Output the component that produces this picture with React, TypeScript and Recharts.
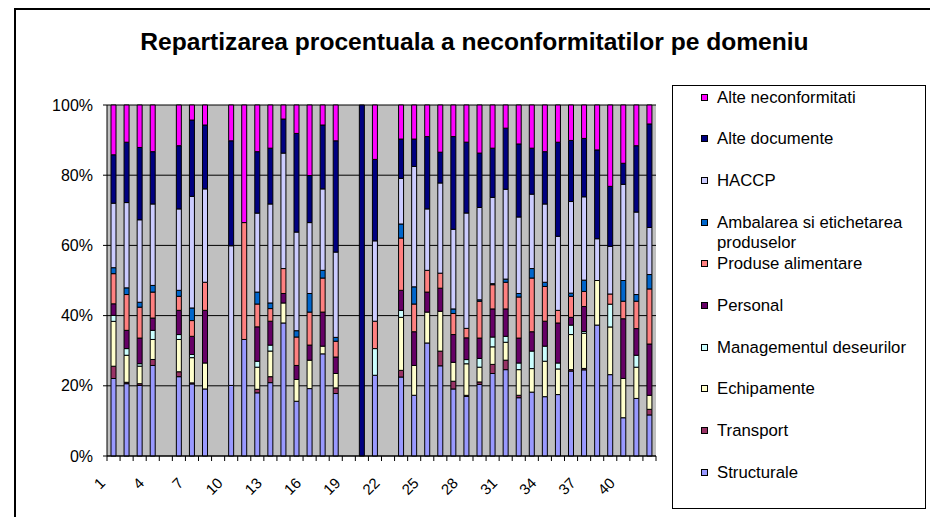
import React from 'react';
import { BarChart, Bar, XAxis, YAxis, CartesianGrid } from 'recharts';

// categories 1..42 (5, 9, 19 and 22 have no data)
const categories = [
  '1', '2', '3', '4', '5', '6', '7', '8', '9', '10', '11', '12', '13', '14',
  '15', '16', '17', '18', '19', '20', '21', '22', '23', '24', '25', '26', '27', '28',
  '29', '30', '31', '32', '33', '34', '35', '36', '37', '38', '39', '40', '41', '42',
];

// percentage shares, bottom of the stack first
const structurale = [
  22.1, 20.6, 20.1, 25.8, 0, 22.6, 20.6, 19.1, 0, 20.1, 33.2, 18.0, 20.9, 37.9,
  15.6, 19.2, 29.1, 17.8, 0, 0, 23.0, 0, 22.5, 17.3, 32.2, 25.8, 19.1, 17.0,
  20.4, 23.5, 24.6, 16.6, 18.2, 16.9, 17.5, 24.2, 24.5, 37.3, 23.2, 10.9, 16.4, 11.7,
];
const transport = [
  3.5, 0.4, 0.5, 1.7, 0, 1.4, 0.3, 0, 0, 0, 0, 1.0, 1.7, 0,
  0, 0, 0, 1.6, 0, 0, 0, 0, 1.9, 0, 0, 4.2, 2.2, 0.3,
  0.7, 2.6, 2.7, 0.7, 0, 0, 0, 0.4, 0.4, 0, 0, 0, 0, 1.6,
];
const echipamente = [
  12.8, 7.7, 5.0, 5.7, 0, 9.2, 7.2, 7.4, 0, 0, 0, 6.3, 7.3, 5.7,
  6.2, 8.1, 2.2, 4.1, 0, 0, 0, 0, 15.1, 8.5, 8.8, 11.4, 5.4, 9.0,
  4.2, 5.0, 5.1, 7.3, 6.7, 10.1, 7.3, 10.0, 10.0, 12.7, 13.6, 11.2, 8.9, 4.0,
];
const managementul = [
  1.7, 1.9, 0.7, 2.6, 0, 1.4, 0.9, 0, 0, 0, 0, 1.7, 1.7, 0,
  0, 0, 0, 0, 0, 0, 7.6, 0, 2.0, 0, 0, 0, 0, 1.2,
  2.5, 2.8, 1.7, 1.9, 5.0, 4.3, 1.7, 2.7, 0.5, 0, 6.5, 0, 3.4, 0,
];
const personal = [
  3.3, 5.2, 7.3, 3.5, 0, 6.9, 5.2, 15.0, 0, 0, 0, 9.8, 6.8, 2.7,
  4.0, 4.3, 9.7, 4.7, 0, 0, 0, 0, 5.7, 9.6, 5.7, 6.6, 7.9, 6.2,
  5.8, 8.0, 7.8, 7.1, 5.5, 7.1, 11.4, 2.2, 7.1, 0, 0, 17.0, 7.6, 14.6,
];
const produse = [
  8.6, 10.2, 8.8, 7.4, 0, 4.0, 4.5, 8.0, 0, 0, 33.3, 6.5, 3.6, 7.1,
  8.1, 9.4, 9.7, 4.5, 0, 0, 7.8, 0, 14.9, 7.9, 6.2, 4.3, 6.0, 2.7,
  10.5, 6.9, 7.6, 11.7, 15.3, 9.9, 3.6, 6.0, 4.3, 0, 2.9, 5.0, 7.8, 15.7,
];
const ambalarea = [
  1.7, 1.9, 1.4, 1.9, 0, 1.7, 3.6, 0, 0, 0, 0, 3.4, 1.6, 0,
  1.8, 5.3, 2.2, 1.1, 0, 0, 0, 0, 4.0, 4.9, 0, 0, 1.3, 0,
  0.4, 0.3, 0.9, 1.0, 2.7, 1.2, 0, 0.9, 3.2, 0, 0, 5.9, 1.9, 4.1,
];
const haccp = [
  18.4, 24.3, 23.5, 23.2, 0, 23.2, 31.9, 26.6, 0, 39.8, 0, 22.5, 28.2, 32.9,
  28.1, 20.2, 23.2, 24.3, 0, 0, 22.9, 0, 13.0, 34.3, 17.5, 25.8, 22.7, 32.9,
  26.3, 24.6, 25.6, 21.8, 21.2, 22.3, 21.1, 26.1, 23.7, 11.9, 13.6, 27.4, 23.5, 13.4,
];
const alteDocumente = [
  13.8, 17.2, 20.6, 14.9, 0, 18.0, 21.8, 18.2, 0, 29.9, 0, 17.5, 15.9, 9.7,
  28.1, 13.4, 18.2, 31.7, 0, 100, 23.2, 0, 11.2, 7.8, 20.6, 8.8, 26.4, 20.2,
  15.5, 14.0, 17.4, 20.8, 13.1, 14.9, 26.8, 17.4, 16.6, 25.3, 17.1, 6.0, 18.9, 29.5,
];
const alteNeconformitati = [
  14.2, 10.6, 12.1, 13.3, 0, 11.6, 4.3, 5.7, 0, 10.2, 33.5, 13.3, 12.3, 4.0,
  8.1, 20.1, 5.7, 10.2, 0, 0, 15.5, 0, 9.7, 9.7, 9.0, 13.5, 9.0, 10.6,
  13.7, 12.3, 6.6, 11.1, 12.3, 13.3, 10.6, 10.1, 9.5, 12.8, 23.2, 16.6, 11.6, 5.4,
];

const yTicks = [0, 0.2, 0.4, 0.6, 0.8, 1];

const SERIES = [
  { key: 'structurale', name: 'Structurale', color: '#9999FF', values: structurale },
  { key: 'transport', name: 'Transport', color: '#993366', values: transport },
  { key: 'echipamente', name: 'Echipamente', color: '#FFFFCC', values: echipamente },
  { key: 'managementul', name: 'Managementul deseurilor', color: '#CCFFFF', values: managementul },
  { key: 'personal', name: 'Personal', color: '#660066', values: personal },
  { key: 'produse', name: 'Produse alimentare', color: '#FF8080', values: produse },
  { key: 'ambalarea', name: 'Ambalarea si etichetarea produselor', color: '#0066CC', values: ambalarea },
  { key: 'haccp', name: 'HACCP', color: '#CCCCFF', values: haccp },
  { key: 'alteDocumente', name: 'Alte documente', color: '#000080', values: alteDocumente },
  { key: 'alteNeconformitati', name: 'Alte neconformitati', color: '#FF00FF', values: alteNeconformitati },
];

const data = categories.map((name, i) => {
  const row: Record<string, string | number> = { name };
  SERIES.forEach(s => {
    row[s.key] = s.values[i];
  });
  return row;
});

const FONT = '"Liberation Sans", Arial, sans-serif';
const W = 930;
const H = 517;
const PLOT_LEFT = 107;
const PLOT_RIGHT = 656;
const PLOT_TOP = 105;
const PLOT_BOTTOM = 456;
const Y_AXIS_W = 60;
const X_AXIS_H = 40;
const BAND = (PLOT_RIGHT - PLOT_LEFT) / categories.length;

const XTick = (props: any) => {
  const { x, y, payload } = props;
  const index = props.index ?? payload.index;
  const half = BAND / 2;
  return (
    <g>
      <line x1={x - half} x2={x - half} y1={y} y2={y + 5} stroke="#000" />
      {index === categories.length - 1 && (
        <line x1={x + half} x2={x + half} y1={y} y2={y + 5} stroke="#000" />
      )}
      {index % 3 === 0 && (
        <text
          transform={`translate(${x - 7.5},${y + 28}) rotate(-45)`}
          textAnchor="end"
          fontSize={15}
          fontFamily={FONT}
          fill="#000"
        >
          {payload.value}
        </text>
      )}
    </g>
  );
};

// y tick labels end ~10px left of the axis line
const YTick = (props: any) => {
  const { y, payload } = props;
  return (
    <text
      x={PLOT_LEFT - 14}
      y={y}
      dy="0.355em"
      textAnchor="end"
      fontSize={16}
      fontFamily={FONT}
      fill="#000"
    >
      {`${Math.round(payload.value * 100)}%`}
    </text>
  );
};

const LegendBox = () => {
  const items = [...SERIES].reverse();
  return (
    <div
      style={{
        position: 'absolute',
        left: 672,
        top: 85,
        width: 254,
        height: 424,
        border: '1px solid #000',
        boxSizing: 'border-box',
        background: '#fff',
      }}
    >
      {items.map((s, k) => (
        <div key={s.key}>
          <div
            style={{
              position: 'absolute',
              left: 28,
              top: 102.7 + 41.67 * k - 85 - 10,
              width: 7,
              height: 7,
              background: s.color,
              border: '1px solid #000',
              boxSizing: 'border-box',
            }}
          />
          <div
            style={{
              position: 'absolute',
              left: 44,
              top: 102.7 + 41.67 * k - 85 - 15.9,
              width: 203,
              fontFamily: FONT,
              fontSize: 16.75,
              lineHeight: '20.6px',
              color: '#000',
            }}
          >
            {s.name}
          </div>
        </div>
      ))}
    </div>
  );
};

export default function App() {
  return (
    <div
      style={{
        position: 'absolute',
        left: 0,
        top: 0,
        width: W,
        height: H,
        overflow: 'hidden',
        background: '#fff',
      }}
    >
      <div
        style={{
          position: 'absolute',
          left: 14,
          top: 8,
          width: W,
          height: H,
          border: '2px solid #000',
        }}
      />
      <div
        style={{
          position: 'absolute',
          left: 0,
          top: 28,
          width: 949,
          textAlign: 'center',
          fontFamily: FONT,
          fontWeight: 'bold',
          fontSize: 24.6,
          lineHeight: '28px',
          whiteSpace: 'nowrap',
          color: '#000',
        }}
      >
        Repartizarea procentuala a neconformitatilor pe domeniu
      </div>
      <div style={{ position: 'absolute', left: 0, top: 0 }}>
        <BarChart
          width={W}
          height={H}
          data={data}
          stackOffset="expand"
          barSize={5}
          margin={{
            top: PLOT_TOP,
            right: W - PLOT_RIGHT,
            left: PLOT_LEFT - Y_AXIS_W,
            bottom: H - PLOT_BOTTOM - X_AXIS_H,
          }}
        >
          <CartesianGrid fill="#C0C0C0" stroke="#000" vertical={false} horizontalValues={yTicks} />
          <XAxis
            dataKey="name"
            interval={0}
            height={X_AXIS_H}
            tickLine={false}
            tickSize={0}
            tickMargin={0}
            axisLine={{ stroke: '#000' }}
            tick={<XTick />}
          />
          <YAxis
            width={Y_AXIS_W}
            domain={[0, 1]}
            ticks={yTicks}
            tickSize={4}
            tickLine={{ stroke: '#000' }}
            axisLine={{ stroke: '#000' }}
            tick={<YTick />}
          />
          {SERIES.map(s => (
            <Bar
              key={s.key}
              dataKey={s.key}
              name={s.name}
              stackId="a"
              fill={s.color}
              stroke="#000"
              strokeWidth={1}
              isAnimationActive={false}
            />
          ))}
        </BarChart>
      </div>
      <LegendBox />
    </div>
  );
}
